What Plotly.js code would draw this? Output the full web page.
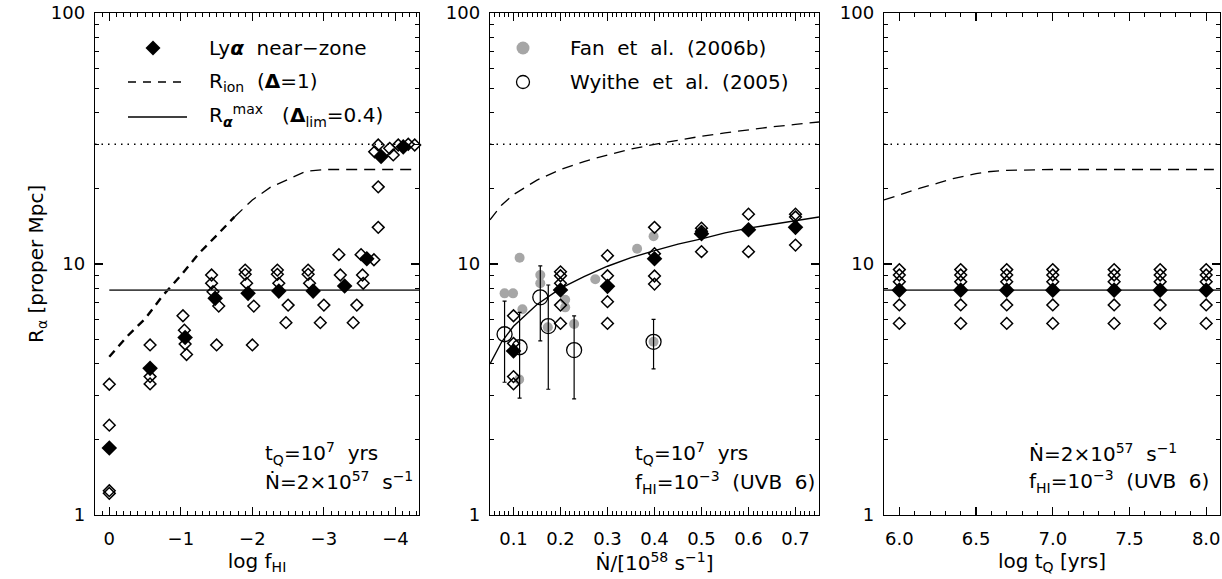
<!DOCTYPE html>
<html>
<head>
<meta charset="utf-8">
<script src="https://cdn.plot.ly/plotly-3.0.1.min.js"></script>
<style>html,body{margin:0;padding:0;background:#fff;}#chart{width:1222px;height:579px;}</style>
</head>
<body>
<div id="chart"></div>
<script>
// ---------------- Panel 1: R_alpha vs log f_HI ----------------
const p1FilledX = [0, -0.57, -1.06, -1.48, -1.94, -2.37, -2.85, -3.29, -3.6, -3.8, -4.11];
const p1FilledY = [1.85, 3.84, 5.1, 7.3, 7.64, 7.8, 7.8, 8.17, 10.5, 26.8, 29.3];
const p1OpenX = [0, 0, 0, 0,
  -0.57, -0.57, -0.57,
  -1.03, -1.05, -1.06, -1.08,
  -1.43, -1.43, -1.45, -1.53, -1.5,
  -1.9, -1.9, -1.92, -2.02, -2.0,
  -2.35, -2.35, -2.37, -2.5, -2.47,
  -2.78, -2.78, -2.8, -3.0, -2.95,
  -3.21, -3.23, -3.46, -3.41,
  -3.52, -3.54, -3.55, -3.7, -3.76, -3.76,
  -3.71, -3.76, -3.92, -3.97, -4.04, -4.18, -4.27];
const p1OpenY = [3.32, 2.28, 1.22, 1.25,
  4.76, 3.56, 3.33,
  6.22, 5.45, 4.8, 4.36,
  9.04, 8.38, 7.76, 6.8, 4.76,
  9.46, 9.1, 8.38, 6.8, 4.76,
  9.46, 9.1, 8.38, 6.86, 5.84,
  9.46, 9.1, 8.38, 6.86, 5.84,
  10.9, 9.04, 6.86, 5.84,
  10.9, 9.04, 8.38, 10.4, 14.0, 20.3,
  28.0, 29.8, 28.9, 27.2, 29.8, 30.0, 29.8];
const p1IonX = [0, -0.25, -0.5, -0.75, -1.0, -1.25, -1.5, -1.75];
const p1IonY = [4.27, 5.15, 6.05, 7.5, 9.0, 11.0, 13.0, 15.4];
const p1IonX2 = [-1.75, -2.0, -2.25, -2.5, -2.75, -3.0, -3.5, -4.0, -4.27];
const p1IonY2 = [15.4, 18.0, 20.2, 21.8, 23.4, 23.8, 23.8, 23.8, 23.8];
const p1MaxX = [0, -4.33];
const p1MaxY = [7.87, 7.87];
const p1DotX = [0.2, -4.33];
const dotY = [30, 30];
const p1TickVals = [0, -1, -2, -3, -4];
const p1TickText = ['0', '\u22121', '\u22122', '\u22123', '\u22124'];

// ---------------- Panel 2: R_alpha vs Ndot ----------------
const p2FanX = [0.081, 0.099, 0.113, 0.119, 0.112, 0.157, 0.157, 0.173, 0.21, 0.21, 0.229, 0.274, 0.363, 0.398, 0.398];
const p2FanY = [7.64, 7.64, 10.6, 6.6, 3.47, 9.04, 8.38, 5.6, 7.2, 6.72, 5.77, 8.69, 11.5, 12.9, 4.9];
const p2WyX = [0.081, 0.113, 0.157, 0.174, 0.229, 0.398];
const p2WyY = [5.25, 4.66, 7.37, 5.66, 4.54, 4.9];
const p2WyHi = [7.12, 6.42, 9.84, 8.25, 6.22, 6.02];
const p2WyLo = [3.38, 2.92, 4.94, 3.17, 2.9, 3.82];
const p2FilledX = [0.1, 0.2, 0.3, 0.4, 0.5, 0.6, 0.7];
const p2FilledY = [4.5, 7.88, 8.15, 10.5, 13.2, 13.7, 14.0];
const p2OpenX = [0.1, 0.1, 0.1, 0.1,
  0.2, 0.2, 0.2, 0.2, 0.2,
  0.3, 0.3, 0.3, 0.3,
  0.4, 0.4, 0.4, 0.4,
  0.5, 0.5, 0.5,
  0.6, 0.6,
  0.7, 0.7, 0.7];
const p2OpenY = [6.22, 4.83, 3.56, 3.33,
  9.31, 8.98, 8.38, 6.86, 5.8,
  10.8, 8.98, 7.08, 5.8,
  14.0, 11.0, 8.96, 8.32,
  13.9, 13.5, 11.2,
  15.8, 11.2,
  15.8, 15.4, 11.9];
const p2CurveX = [0.05, 0.075, 0.1, 0.15, 0.2, 0.25, 0.3, 0.35, 0.4, 0.45, 0.5, 0.55, 0.6, 0.65, 0.7, 0.75];
const p2MaxY = [4.0, 4.9, 5.65, 6.9, 8.0, 8.9, 9.8, 10.6, 11.3, 12.0, 12.6, 13.3, 13.9, 14.4, 14.9, 15.4];
const p2IonY = [15.0, 17.2, 18.9, 21.6, 23.8, 25.6, 27.2, 28.7, 30.0, 31.2, 32.3, 33.3, 34.3, 35.2, 36.0, 36.8];
const p2DotX = [0.05, 0.75];
const p2TickVals = [0.1, 0.2, 0.3, 0.4, 0.5, 0.6, 0.7];

// ---------------- Panel 3: R_alpha vs log t_Q ----------------
const p3TQ = [6.0, 6.4, 6.7, 7.0, 7.4, 7.7, 8.0];
const p3FilledY = [7.87, 7.87, 7.87, 7.87, 7.87, 7.87, 7.87];
const p3OpenA = [9.5, 9.5, 9.5, 9.5, 9.5, 9.5, 9.5];
const p3OpenB = [9.04, 9.04, 9.04, 9.04, 9.04, 9.04, 9.04];
const p3OpenC = [8.5, 8.5, 8.5, 8.5, 8.5, 8.5, 8.5];
const p3OpenD = [6.87, 6.87, 6.87, 6.87, 6.87, 6.87, 6.87];
const p3OpenE = [5.8, 5.8, 5.8, 5.8, 5.8, 5.8, 5.8];
const p3IonX = [5.9, 6.0, 6.13, 6.25, 6.35, 6.5, 6.57, 6.7, 6.79, 7.0, 7.5, 8.05];
const p3IonY = [18.0, 18.9, 20.0, 21.0, 21.9, 22.9, 23.3, 23.6, 23.7, 23.8, 23.8, 23.8];
const p3MaxX = [5.9, 8.09];
const p3MaxY = [7.87, 7.87];
const p3DotX = [5.9, 8.09];
const p3TickVals = [6.0, 6.5, 7.0, 7.5, 8.0];
const p3TickText = ['6.0', '6.5', '7.0', '7.5', '8.0'];

const yTickVals = [1, 10, 100];
const yMinorVals = [2, 3, 4, 5, 6, 7, 8, 9, 20, 30, 40, 50, 60, 70, 80, 90];

// ---------------- styles ----------------
const FONT = 'DejaVu Sans, Liberation Sans, Arial, sans-serif';
const TXT = 20;
const W = 1222, H = 579;
const px = v => v / W;
const py = v => 1 - v / H;
const filledM = {symbol: 'diamond', size: 12, color: '#000'};
const openM = {symbol: 'diamond-open', size: 9, color: '#000', line: {width: 1.5, color: '#000'}};
const dashIon = '11px,7px';
const dotDash = '1.5px,5px';

function line(x, y, xa, ya, dash, width, color) {
  return {x: x, y: y, xaxis: xa, yaxis: ya, type: 'scatter', mode: 'lines',
    line: {color: color || '#000', width: width || 1.3, dash: dash || 'solid'}, hoverinfo: 'skip', showlegend: false};
}
function pts(x, y, xa, ya, marker) {
  return {x: x, y: y, xaxis: xa, yaxis: ya, type: 'scatter', mode: 'markers', marker: marker, showlegend: false, cliponaxis: false};
}

const traces = [];
// panel 1
traces.push(line(p1DotX, dotY, 'x', 'y', dotDash, 1.5));
traces.push(line(p1IonX, p1IonY, 'x', 'y', '8px,6px', 2.4));
traces.push(line(p1IonX2, p1IonY2, 'x', 'y', dashIon, 1.3));
traces.push(line(p1MaxX, p1MaxY, 'x', 'y', 'solid', 1.6, '#444'));
traces.push(pts(p1OpenX, p1OpenY, 'x', 'y', openM));
traces.push(pts(p1FilledX, p1FilledY, 'x', 'y', filledM));
// panel 2
traces.push(line(p2DotX, dotY, 'x2', 'y2', dotDash, 1.5));
traces.push(line(p2CurveX, p2IonY, 'x2', 'y2', dashIon, 1.3));
traces.push(line(p2CurveX, p2MaxY, 'x2', 'y2', 'solid', 1.4));
traces.push(pts(p2FanX, p2FanY, 'x2', 'y2', {symbol: 'circle', size: 10, color: '#a6a6a6'}));
traces.push(pts(p2OpenX, p2OpenY, 'x2', 'y2', openM));
traces.push(pts(p2FilledX, p2FilledY, 'x2', 'y2', filledM));
const wy = pts(p2WyX, p2WyY, 'x2', 'y2', {symbol: 'circle-open', size: 15, color: '#000', line: {width: 1.3, color: '#000'}});
wy.error_y = {type: 'data', symmetric: false,
  array: p2WyHi.map((h, i) => h - p2WyY[i]),
  arrayminus: p2WyLo.map((l, i) => p2WyY[i] - l),
  color: '#000', thickness: 1.2, width: 2};
traces.push(wy);
// panel 3
traces.push(line(p3DotX, dotY, 'x3', 'y3', dotDash, 1.5));
traces.push(line(p3IonX, p3IonY, 'x3', 'y3', dashIon, 1.3));
traces.push(line(p3MaxX, p3MaxY, 'x3', 'y3', 'solid', 1.6, '#444'));
[p3OpenA, p3OpenB, p3OpenC, p3OpenD, p3OpenE].forEach(arr => traces.push(pts(p3TQ, arr, 'x3', 'y3', openM)));
traces.push(pts(p3TQ, p3FilledY, 'x3', 'y3', filledM));

const tickFont = {family: FONT, size: 18, color: '#000'};
function xAxis(domain, range, tickvals, ticktext, minorDtick, minorTick0, title, anchor) {
  return {domain: domain, range: range, anchor: anchor, tickmode: 'array', tickvals: tickvals, ticktext: ticktext,
    ticks: 'inside', ticklen: 8, tickwidth: 1.2, tickcolor: '#000', showline: true, linecolor: '#000', linewidth: 1.3,
    mirror: 'ticks', showgrid: false, zeroline: false, tickfont: tickFont, ticklabelstandoff: 7,
    minor: {ticks: 'inside', ticklen: 4, tickwidth: 1, tickcolor: '#000', dtick: minorDtick, tick0: minorTick0, showgrid: false},
    title: {text: title, font: {family: FONT, size: TXT, color: '#000'}, standoff: 4}};
}
function yAxis(anchor) {
  return {domain: [0.1105, 0.9775], type: 'log', range: [0, 2], anchor: anchor, tickmode: 'array', tickvals: yTickVals,
    ticktext: ['1', '10', '100'], ticks: 'inside', ticklen: 8, tickwidth: 1.2, tickcolor: '#000', showline: true,
    linecolor: '#000', linewidth: 1.3, mirror: 'ticks', showgrid: false, zeroline: false, tickfont: tickFont, ticklabelstandoff: 5,
    minor: {ticks: 'inside', ticklen: 4, tickwidth: 1, tickcolor: '#000', tickvals: yMinorVals, showgrid: false}};
}
function note(text, x, y) {
  return {text: text, xref: 'paper', yref: 'paper', x: px(x), y: py(y), xanchor: 'left', yanchor: 'middle',
    showarrow: false, font: {family: FONT, size: TXT, color: '#000'}};
}

const layout = {
  width: W, height: H, margin: {l: 0, r: 0, t: 0, b: 0}, paper_bgcolor: '#fff', plot_bgcolor: '#fff',
  showlegend: false, font: {family: FONT, size: TXT, color: '#000'},
  xaxis: xAxis([px(95), px(419)], [0.2, -4.33], p1TickVals, p1TickText, 0.1, 0, 'log f<sub>HI</sub>', 'y'),
  xaxis2: xAxis([px(490), px(819)], [0.05, 0.75], p2TickVals, p2TickVals.map(v => v.toFixed(1)), 0.01, 0, '\u1E44/[10<sup>58</sup> s<sup>\u22121</sup>]', 'y2'),
  xaxis3: xAxis([px(884), px(1220)], [5.9, 8.09], p3TickVals, p3TickText, 0.1, 0, 'log t<sub>Q</sub> [yrs]', 'y3'),
  yaxis: yAxis('x'),
  yaxis2: yAxis('x2'),
  yaxis3: yAxis('x3'),
  shapes: [
    // legend panel 1
    {type: 'path', xref: 'paper', yref: 'paper', xsizemode: 'pixel', ysizemode: 'pixel', xanchor: px(153), yanchor: py(48),
      path: 'M -7.5 0 L 0 7.5 L 7.5 0 L 0 -7.5 Z', fillcolor: '#000', line: {width: 0}},
    {type: 'line', xref: 'paper', yref: 'paper', x0: px(128), x1: px(187), y0: py(82), y1: py(82), line: {color: '#000', width: 1.3, dash: '8px,7px'}},
    {type: 'line', xref: 'paper', yref: 'paper', x0: px(128), x1: px(187), y0: py(117), y1: py(117), line: {color: '#000', width: 1.3}},
    // legend panel 2
    {type: 'circle', xref: 'paper', yref: 'paper', xsizemode: 'pixel', ysizemode: 'pixel', xanchor: px(523), yanchor: py(48),
      x0: -6.5, x1: 6.5, y0: -6.5, y1: 6.5, fillcolor: '#a6a6a6', line: {width: 0}},
    {type: 'circle', xref: 'paper', yref: 'paper', xsizemode: 'pixel', ysizemode: 'pixel', xanchor: px(523), yanchor: py(82),
      x0: -6.5, x1: 6.5, y0: -6.5, y1: 6.5, line: {color: '#000', width: 1.3}}
  ],
  annotations: [
    {text: 'R<sub>\u03B1</sub> [proper Mpc]', xref: 'paper', yref: 'paper', x: px(22), y: py(264), textangle: -90, showarrow: false, font: {family: FONT, size: TXT}},
    note('Ly<b><i>\u03B1</i></b>  near\u2212zone', 207, 48),
    note('R<sub>ion</sub>  (<b>\u0394</b>=1)', 207, 82),
    note('R<sub><b><i>\u03B1</i></b></sub><sup>max</sup>   (<b>\u0394</b><sub>lim</sub>=0.4)', 207, 116),
    note('Fan  et  al.  (2006b)', 568, 48),
    note('Wyithe  et  al.  (2005)', 568, 82),
    note('t<sub>Q</sub>=10<sup>7</sup>  yrs', 263, 453),
    note('\u1E44=2\u00D710<sup>57</sup>  s<sup>\u22121</sup>', 263, 481),
    note('t<sub>Q</sub>=10<sup>7</sup>  yrs', 633, 453),
    note('f<sub>HI</sub>=10<sup>\u22123</sup>  (UVB  6)', 633, 482),
    note('\u1E44=2\u00D710<sup>57</sup>  s<sup>\u22121</sup>', 1027, 453),
    note('f<sub>HI</sub>=10<sup>\u22123</sup>  (UVB  6)', 1027, 481)
  ]
};

Plotly.newPlot('chart', traces, layout, {staticPlot: true, displayModeBar: false});
</script>
</body>
</html>
